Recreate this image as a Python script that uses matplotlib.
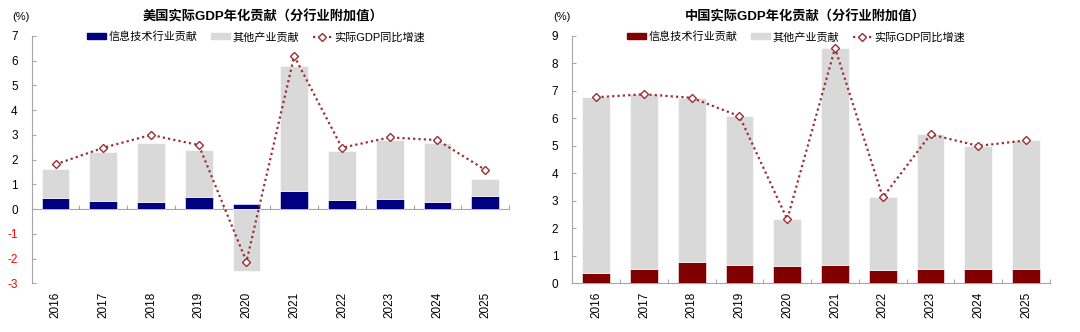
import numpy as np
import matplotlib
matplotlib.use("Agg")
import matplotlib.pyplot as plt
from matplotlib.lines import Line2D
from matplotlib.patches import Patch

plt.rcParams['font.family'] = ['Liberation Sans', 'Noto Sans CJK SC', 'DejaVu Sans']
plt.rcParams['axes.unicode_minus'] = False

years = ['2016', '2017', '2018', '2019', '2020', '2021', '2022', '2023', '2024', '2025']

# United States: contributions (pp) and real GDP growth (%)
us_it = [0.43, 0.31, 0.27, 0.50, 0.21, 0.72, 0.36, 0.40, 0.27, 0.54]
us_other = [1.18, 1.99, 2.41, 1.90, -2.50, 5.08, 1.99, 2.39, 2.39, 0.66]
us_gdp = [1.81, 2.48, 3.00, 2.59, -2.12, 6.19, 2.48, 2.90, 2.79, 1.59]

# China: contributions (pp) and real GDP growth (%)
cn_it = [0.39, 0.52, 0.76, 0.65, 0.62, 0.65, 0.48, 0.51, 0.51, 0.53]
cn_other = [6.38, 6.36, 5.99, 5.43, 1.72, 7.92, 2.65, 4.91, 4.50, 4.67]
cn_gdp = [6.77, 6.88, 6.75, 6.08, 2.33, 8.56, 3.13, 5.42, 5.00, 5.20]

legend_labels = ['信息技术行业贡献', '其他产业贡献', '实际GDP同比增速']

GRAY = '#D9D9D9'
LINE = '#9B3034'
SPINE = '#A6A6A6'

fig = plt.figure(figsize=(10.8, 3.32), dpi=100)
W, H = 1080, 332


def panel(left_px, right_px, title, title_x, leg_x, it, other, gdp, it_color, ylim, yticks):
    ax = fig.add_axes([left_px / W, 1 - 283.3 / H, (right_px - left_px) / W, (283.3 - 36) / H])
    x = np.arange(len(years))
    it = np.asarray(it)
    other = np.asarray(other)
    bottom = np.where(other >= 0, it, 0)
    ax.bar(x, it, width=0.58, color=it_color, edgecolor='white', linewidth=0.4, zorder=2)
    ax.bar(x, other, width=0.58, bottom=bottom, color=GRAY, edgecolor='white', linewidth=0.4, zorder=2)
    ax.plot(x, gdp, linestyle=(0, (1, 1.4)), color=LINE, lw=1.6, marker='D', ms=4.2,
            mfc='white', mec=LINE, mew=1.0, zorder=3)

    ax.set_xlim(-0.5, len(years) - 0.5)
    ax.set_ylim(*ylim)
    ax.set_yticks(yticks)
    ax.set_yticklabels([str(v) for v in yticks])
    for lab, v in zip(ax.get_yticklabels(), yticks):
        lab.set_color('red' if v < 0 else 'black')
    ax.tick_params(axis='y', direction='in', length=3, width=0.8, color=SPINE,
                   labelsize=8.5, pad=10)

    ax.set_xticks(x)
    ax.set_xticklabels(years, rotation=90, va='top', ha='center')
    ax.tick_params(axis='x', length=0, labelsize=8.5, pad=6)

    for s in ['top', 'right', 'bottom']:
        ax.spines[s].set_visible(False)
    ax.spines['left'].set_color(SPINE)
    ax.spines['left'].set_linewidth(0.8)

    # category axis drawn along the zero line
    zero_pos = (0 - ylim[0]) / (ylim[1] - ylim[0])
    sec = ax.secondary_xaxis(zero_pos)
    sec.set_xticks(np.arange(-0.5, len(years), 1.0))
    sec.tick_params(axis='x', direction='in', length=3, width=0.8, color=SPINE, labelbottom=False)
    sec.spines['bottom'].set_color(SPINE)
    sec.spines['bottom'].set_linewidth(0.8)

    fig.text(title_x / W, 1 - 17 / H, title, ha='center', va='center',
             fontsize=9.5, fontweight='bold')
    fig.text((left_px - 19) / W, 1 - 17 / H, '(%)', ha='left', va='center', fontsize=8)

    handles = [Patch(color=it_color), Patch(color=GRAY),
               Line2D([], [], linestyle=(0, (1, 1.4)), color=LINE, lw=1.6, marker='D', ms=4.2,
                      mfc='white', mec=LINE, mew=1.0)]
    fig.legend(handles, legend_labels, loc='center', bbox_to_anchor=(leg_x / W, 1 - 37 / H),
               ncol=3, frameon=False, fontsize=8, handlelength=1.7, handleheight=0.45,
               handletextpad=0.25, columnspacing=1.2, borderaxespad=0)
    return ax


panel(31.7, 509, '美国实际GDP年化贡献（分行业附加值）', 263, 256,
      us_it, us_other, us_gdp, '#000080', (-3, 7), list(range(-3, 8)))
panel(572.3, 1050, '中国实际GDP年化贡献（分行业附加值）', 805, 796,
      cn_it, cn_other, cn_gdp, '#800000', (0, 9), list(range(0, 10)))

fig.savefig('out.png', dpi=100)
